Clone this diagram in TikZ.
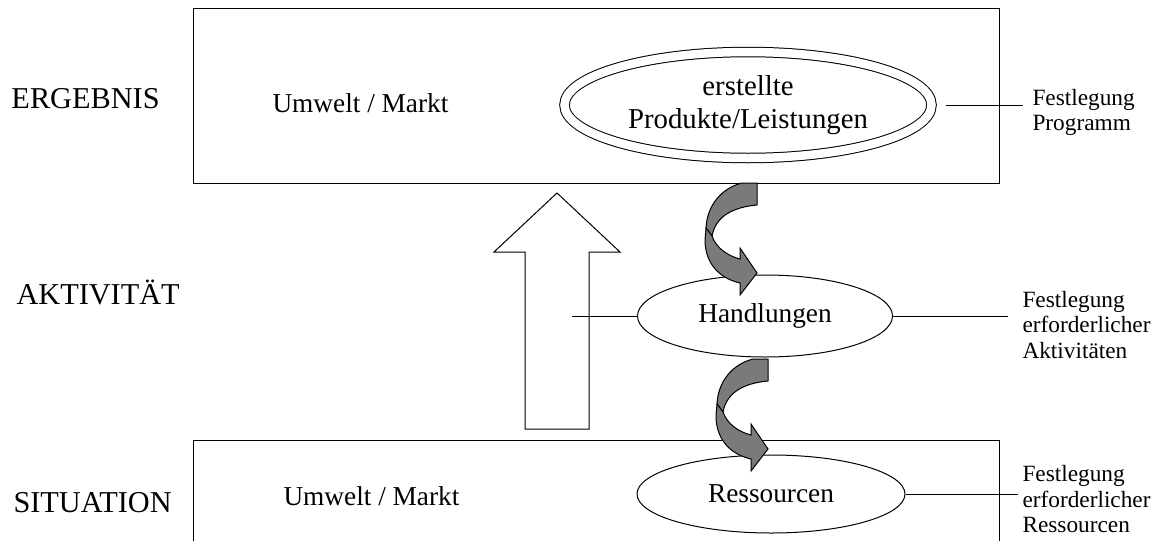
\documentclass[tikz,border=0pt]{standalone}
\usepackage{fontspec}
\setmainfont{Liberation Serif}
\usetikzlibrary{shapes.geometric}

\tikzset{
  lvl/.style={anchor=base west,inner sep=0pt,font=\fontsize{30.3}{34}\selectfont},
  main/.style={inner sep=0pt,font=\fontsize{27.3}{33}\selectfont},
  note/.style={anchor=north west,inner sep=0pt,align=left,font=\fontsize{23.3}{25.5}\selectfont},
  oval/.style={ellipse,draw,main},
}
% gedrehter Pfeil (Band mit Knick)
\newcommand{\twistarrow}[2]{%
  \begin{scope}[shift={(#1,#2)},fill=black!52]
    \filldraw (742,183) -- (757,183) -- (757,205) .. controls (735,207) and (716,215) .. (712,236)
      -- (706,228) .. controls (707,205) and (722,188) .. (742,183) -- cycle;
    \filldraw (706,228) -- (712,236) .. controls (716,248) and (728,256) .. (740,259) -- (740,248)
      -- (757,273) -- (740,295) -- (740,283) .. controls (718,278) and (705,262) .. (705,240) -- cycle;
  \end{scope}}

\begin{document}
\begin{tikzpicture}[x=1pt,y=-1pt,line width=1pt]
  \useasboundingbox (0,0) rectangle (1162,541);

  % Ebenen
  \node[lvl] (ergebnis) at (11,108) {ERGEBNIS};
  \node[lvl] (aktivitaet) at (16,304) {AKTIVITÄT};
  \node[lvl] (situation) at (13,512) {SITUATION};

  % Kasten oben / unten
  \node[draw,minimum width=806pt,minimum height=175pt,inner sep=0pt] (ergbox) at (596,95.5) {};
  \draw (193,541) |- (999,440) -- (999,541);
  \node[main,anchor=base west] (umwelt1) at (272,112) {Umwelt / Markt};
  \node[main,anchor=base west] (umwelt2) at (283,505) {Umwelt / Markt};

  % grosser Pfeil nach oben
  \draw (525,429) -- (525,252) -- (494,252) -- (557,193) -- (620,252) -- (589,252) -- (589,429) -- cycle;

  \node[oval,double,double distance=8.5pt,minimum width=367pt,minimum height=106pt,align=center,
    font=\fontsize{28.8}{33}\selectfont] (produkte) at (748,105) {erstellte\\Produkte/Leistungen};
  \node[oval,minimum width=255pt,minimum height=82pt] (handl) at (765,316) {Handlungen};
  \node[oval,minimum width=268pt,minimum height=78pt] (ress) at (771,494) {Ressourcen};

  \coordinate (armid) at (572,316);
  \coordinate (n1) at (1023,105);
  \coordinate (n2) at (1008,316);
  \coordinate (n3) at (1018,494);
  \draw (armid) -- (handl.west);
  \draw ([xshift=14pt]produkte.east) -- (n1);
  \draw (handl.east) -- (n2);
  \draw (ress.east) -- (n3);

  \node[note] (prog) at (1032,88.5) {Festlegung\\Programm};
  \node[note] (akt) at (1022,290.5) {Festlegung\\erforderlicher\\Aktivitäten};
  \node[note] (res) at (1022,465) {Festlegung\\erforderlicher\\Ressourcen};

  \twistarrow{0}{0}
  \twistarrow{11}{176}
\end{tikzpicture}
\end{document}
